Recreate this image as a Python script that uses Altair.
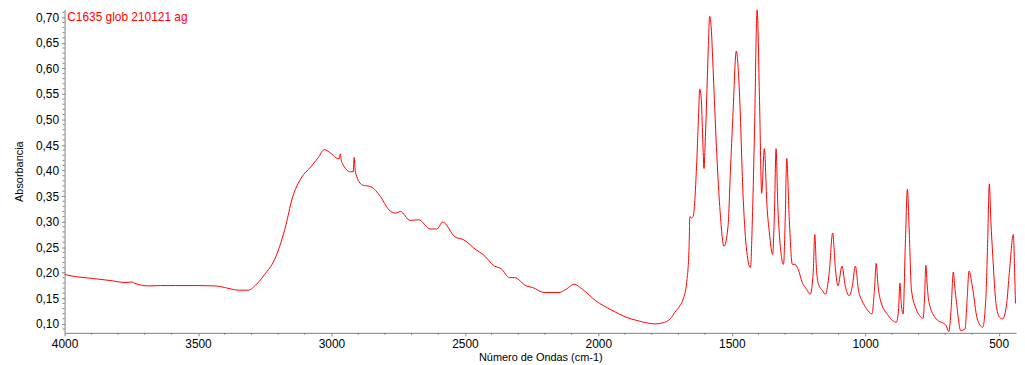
import altair as alt
import pandas as pd

wavenumber = [
    4000, 3993, 3950, 3896, 3830, 3770, 3745, 3740, 3684, 3640, 3584, 3500, 3435, 3390,
    3349, 3312, 3280, 3250, 3213, 3175, 3145, 3114, 3077, 3050, 3027, 3000, 2977, 2970,
    2967, 2963, 2959, 2928, 2918, 2915, 2911, 2909, 2884, 2853, 2816, 2785, 2760, 2742,
    2705, 2673, 2630, 2605, 2583, 2537, 2506, 2456, 2432, 2389, 2364, 2333, 2314, 2270,
    2246, 2203, 2147, 2120, 2091, 2060, 2010, 1950, 1898, 1850, 1787, 1760, 1730, 1713,
    1695, 1682, 1669, 1660, 1657, 1651, 1645, 1632, 1625, 1620, 1614, 1608, 1604, 1600,
    1595, 1588, 1583, 1577, 1570, 1565, 1555, 1545, 1529, 1514, 1505, 1496, 1483, 1471,
    1458, 1446, 1430, 1422, 1415, 1405, 1396, 1388, 1378, 1368, 1359, 1347, 1340, 1334,
    1328, 1322, 1306, 1300, 1294, 1285, 1273, 1264, 1251, 1236, 1220, 1206, 1195, 1189,
    1183, 1177, 1160, 1149, 1135, 1122, 1112, 1102, 1087, 1075, 1060, 1048, 1037, 1025,
    1012, 995, 975, 965, 959, 952, 944, 913, 883, 875, 870, 865, 858, 850, 842, 835, 827,
    810, 796, 783, 777, 773, 767, 761, 734, 697, 687, 678, 670, 664, 658, 642, 626, 618,
    611, 599, 580, 560, 548, 541, 535, 529, 522, 510, 497, 485, 470, 460, 445, 440, 437,
]
absorbance = [
    0.197, 0.196, 0.192, 0.189, 0.185, 0.181, 0.182, 0.180, 0.1744, 0.175, 0.175, 0.175, 0.1744, 0.170,
    0.166, 0.166, 0.178, 0.197, 0.226, 0.2845, 0.349, 0.385, 0.4074, 0.425, 0.441, 0.433, 0.4237, 0.424,
    0.433, 0.420, 0.414, 0.3977, 0.398, 0.4257, 0.400, 0.3946, 0.3718, 0.3686, 0.349, 0.3233, 0.3169, 0.320,
    0.3026, 0.3038, 0.2858, 0.2858, 0.2994, 0.2703, 0.265, 0.2443, 0.236, 0.2133, 0.2081, 0.1906, 0.1906, 0.1744,
    0.1712, 0.1615, 0.1615, 0.168, 0.1777, 0.168, 0.1453, 0.127, 0.1136, 0.106, 0.100, 0.102, 0.110, 0.1227,
    0.135, 0.1485, 0.181, 0.250, 0.310, 0.3072, 0.310, 0.4074, 0.50, 0.5596, 0.537, 0.45, 0.4042, 0.45,
    0.524, 0.64, 0.702, 0.679, 0.60, 0.537, 0.42, 0.3297, 0.252, 0.291, 0.40, 0.5045, 0.634, 0.550,
    0.3557, 0.252, 0.210, 0.32, 0.472, 0.715, 0.537, 0.3557, 0.443, 0.33, 0.278, 0.236, 0.32, 0.443,
    0.34, 0.278, 0.2165, 0.30, 0.4237, 0.310, 0.2165, 0.2165, 0.2068, 0.181, 0.168, 0.158, 0.20, 0.2748,
    0.21, 0.181, 0.165, 0.158, 0.20, 0.278, 0.21, 0.1744, 0.2132, 0.175, 0.155, 0.175, 0.2132, 0.165,
    0.1453, 0.130, 0.1194, 0.17, 0.2184, 0.175, 0.1485, 0.116, 0.1033, 0.13, 0.1796, 0.14, 0.1194, 0.25, 0.3635, 0.28, 0.168,
    0.13, 0.116, 0.111, 0.16, 0.2146, 0.17, 0.142, 0.1097, 0.0967, 0.085, 0.13, 0.2016, 0.17, 0.142, 0.087, 0.090, 0.15,
    0.2035, 0.1744, 0.1097, 0.0936, 0.15, 0.265, 0.374, 0.30, 0.2326, 0.14, 0.113, 0.1097, 0.14, 0.2003, 0.2748, 0.20, 0.14,
]

x_major = list(range(4000, 499, -500))
x_minor = [v for v in range(4000, 499, -100) if v % 500 != 0]
y_major = [round(0.10 + 0.05 * i, 2) for i in range(13)]
y_minor = [round(0.09 + 0.01 * i, 2) for i in range(63) if round((0.09 + 0.01 * i) * 100) % 5 != 0]
series_label = "C1635 glob 210121 ag"

FONT = "Liberation Sans"
RED = "#ff0000"
GREY = "#808080"
W, H = 959, 326

df = pd.DataFrame({"w": wavenumber, "a": absorbance, "order": range(len(wavenumber))})

x_scale = alt.Scale(domain=[435, 4000], reverse=True, nice=False, zero=False)
y_scale = alt.Scale(domain=[0.0825, 0.7155], nice=False, zero=False)

x_axis = alt.Axis(
    title="Número de Ondas (cm-1)",
    values=x_major,
    format="d",
    labelOverlap=False,
    labelFlush=False,
    grid=False,
    tickSize=3,
    tickColor=GREY,
    domainColor=GREY,
    labelColor="black",
    labelFont=FONT,
    labelFontSize=12,
    labelPadding=3,
    titleFont=FONT,
    titleFontSize=11,
    titleFontWeight="normal",
    titleColor="black",
    titlePadding=2,
)
y_axis = alt.Axis(
    title="Absorbancia",
    values=y_major,
    labelExpr="replace(format(datum.value, '.2f'), '.', ',')",
    labelOverlap=False,
    labelFlush=False,
    grid=False,
    tickSize=3,
    tickColor=GREY,
    domainColor=GREY,
    labelColor="black",
    labelFont=FONT,
    labelFontSize=12,
    labelPadding=3,
    titleFont=FONT,
    titleFontSize=11,
    titleFontWeight="normal",
    titleColor="black",
    titlePadding=11,
)

line = alt.Chart(df).mark_line(
    color=RED, strokeWidth=1, clip=True, interpolate="monotone"
).encode(
    x=alt.X("w:Q", scale=x_scale, axis=x_axis, title="Número de Ondas (cm-1)"),
    y=alt.Y("a:Q", scale=y_scale, axis=y_axis, title="Absorbancia"),
    order="order:Q",
)

xminor = alt.Chart(pd.DataFrame({"w": x_minor})).mark_rule(color=GREY, strokeWidth=1).encode(
    x=alt.X("w:Q", scale=x_scale, axis=x_axis, title="Número de Ondas (cm-1)"),
    y=alt.value(H),
    y2=alt.value(H + 2),
)
yminor = alt.Chart(pd.DataFrame({"a": y_minor})).mark_rule(color=GREY, strokeWidth=1).encode(
    y=alt.Y("a:Q", scale=y_scale, axis=y_axis, title="Absorbancia"),
    x=alt.value(-2),
    x2=alt.value(0),
)

label = alt.Chart(pd.DataFrame({"w": [3990], "a": [0.70], "t": [series_label]})).mark_text(
    color=RED, font=FONT, fontSize=12, align="left", baseline="middle"
).encode(
    x=alt.X("w:Q", scale=x_scale, axis=x_axis, title="Número de Ondas (cm-1)"),
    y=alt.Y("a:Q", scale=y_scale, axis=y_axis, title="Absorbancia"),
    text="t:N",
)

chart = (
    alt.layer(line, xminor, yminor, label)
    .properties(
        width=W,
        height=H,
        autosize=alt.AutoSizeParams(type="none"),
        padding={"left": 57, "top": 0, "right": 1, "bottom": 33},
        background="white",
    )
    .configure_view(stroke=None)
)

chart.save("out.html", embed_options={"renderer": "svg", "actions": False})
